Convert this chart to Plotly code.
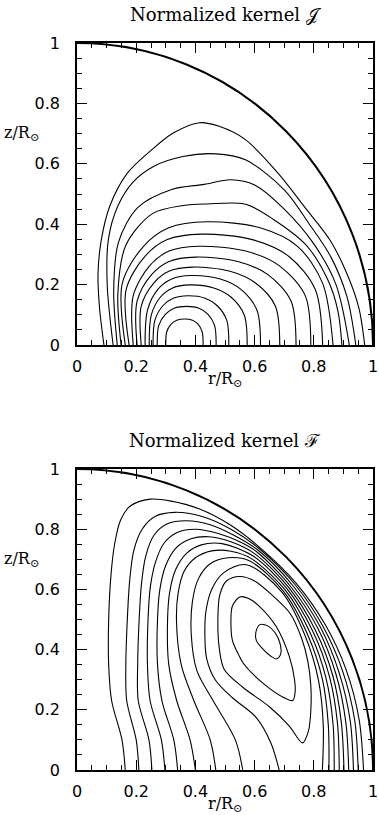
import plotly.graph_objects as go

# ---------------- data: contour lines (r/R, z/R) ----------------
# Top panel: normalized kernel J  (innermost -> outermost)
J01 = [(0.300,0),(0.303,0.043),(0.318,0.069),(0.337,0.082),(0.364,0.086),(0.390,0.082),(0.409,0.069),(0.423,0.043),(0.426,0)]
J02 = [(0.271,0),(0.276,0.064),(0.299,0.102),(0.328,0.122),(0.37,0.128),(0.412,0.122),(0.442,0.102),(0.465,0.064),(0.47,0)]
J03 = [(0.257,0),(0.263,0.0815),(0.29,0.13),(0.325,0.155),(0.375,0.163),(0.433,0.155),(0.474,0.13),(0.506,0.0815),(0.513,0)]
J04 = [(0.244,0),(0.251,0.0995),(0.282,0.159),(0.323,0.189),(0.38,0.199),(0.462,0.189),(0.52,0.159),(0.565,0.0995),(0.575,0)]
J05 = [(0.23,0),(0.238,0.115),(0.273,0.184),(0.32,0.2185),(0.385,0.23),(0.484,0.2185),(0.554,0.184),(0.608,0.115),(0.62,0)]
J06 = [(0.217,0),(0.217,0.129),(0.26,0.206),(0.312,0.245),(0.39,0.258),(0.514,0.245),(0.602,0.206),(0.67,0.129),(0.685,0)]
J07 = [(0.203,0),(0.203,0.1455),(0.252,0.233),(0.311,0.2765),(0.40,0.291),(0.543,0.2765),(0.645,0.233),(0.723,0.1455),(0.74,0)]
J08 = [(0.19,0),(0.19,0.1635),(0.245,0.262),(0.311,0.311),(0.41,0.327),(0.57,0.311),(0.684,0.262),(0.771,0.1635),(0.79,0)]
J09 = [(0.176,0),(0.166,0.1835),(0.23,0.294),(0.305,0.349),(0.42,0.367),(0.592,0.349),(0.715,0.294),(0.805,0.1835),(0.83,0)]
J10 = [(0.163,0),(0.153,0.204),(0.224,0.326),(0.31,0.388),(0.44,0.408),(0.6185,0.388),(0.746,0.326),(0.83,0.204),(0.865,0)]
J11 = [(0.149,0),(0.138,0.17),(0.165,0.33),(0.255,0.435),(0.36,0.462),(0.44,0.467),(0.57,0.466),(0.665,0.415),(0.775,0.33),(0.85,0.21),(0.882,0.11),(0.895,0)]
J12 = [(0.136,0),(0.124,0.18),(0.14,0.34),(0.205,0.455),(0.32,0.515),(0.43,0.532),(0.52,0.547),(0.6,0.53),(0.7,0.45),(0.8,0.335),(0.875,0.2),(0.92,0)]
J13 = [(0.122,0),(0.102,0.2),(0.106,0.35),(0.138,0.46),(0.19,0.54),(0.26,0.592),(0.358,0.624),(0.469,0.633),(0.569,0.613),(0.701,0.513),(0.785,0.40),(0.858,0.291),(0.912,0.16),(0.942,0)]
J14 = [(0.091,0),(0.076,0.124),(0.071,0.236),(0.082,0.347),(0.110,0.458),(0.170,0.569),(0.253,0.647),(0.325,0.702),(0.414,0.736),(0.480,0.724),(0.569,0.68),(0.679,0.569),(0.768,0.458),(0.855,0.347),(0.912,0.236),(0.952,0.124),(0.972,0)]

# Bottom panel: normalized kernel F  (closed loops, then open curves inner -> outer)
F_L1 = [(0.618,0.483),(0.604,0.456),(0.606,0.43),(0.625,0.405),(0.655,0.378),(0.674,0.369),(0.688,0.385),(0.686,0.42),(0.67,0.455),(0.646,0.478),(0.618,0.483)]
F_L2 = [(0.55,0.575),(0.525,0.545),(0.52,0.49),(0.525,0.431),(0.545,0.385),(0.563,0.353),(0.63,0.287),(0.696,0.242),(0.729,0.231),(0.737,0.26),(0.735,0.3),(0.718,0.375),(0.674,0.475),(0.618,0.542),(0.58,0.57),(0.55,0.575)]
F_L3 = [(0.762,0.09),(0.782,0.13),(0.79,0.2),(0.79,0.28),(0.78,0.36),(0.758,0.44),(0.72,0.52),(0.66,0.58),(0.6,0.628),(0.55,0.643),(0.505,0.628),(0.482,0.58),(0.476,0.5),(0.48,0.41),(0.497,0.335),(0.56,0.275),(0.65,0.21),(0.718,0.145),(0.762,0.09)]
F01 = [(0.683,0),(0.655,0.09),(0.605,0.175),(0.525,0.24),(0.468,0.298),(0.438,0.37),(0.432,0.45),(0.436,0.53),(0.455,0.6),(0.495,0.655),(0.572,0.682),(0.693,0.59),(0.771,0.445),(0.816,0.297),(0.832,0.147),(0.829,0)]
F02 = [(0.56,0),(0.535,0.1),(0.46,0.23),(0.405,0.33),(0.386,0.45),(0.39,0.56),(0.41,0.635),(0.45,0.685),(0.51,0.705),(0.582,0.695),(0.699,0.592),(0.779,0.45),(0.829,0.302),(0.849,0.15),(0.851,0)]
F03 = [(0.469,0),(0.45,0.1),(0.395,0.23),(0.352,0.35),(0.336,0.5),(0.342,0.59),(0.362,0.66),(0.4,0.705),(0.455,0.728),(0.52,0.727),(0.588,0.703),(0.705,0.596),(0.788,0.455),(0.841,0.306),(0.865,0.153),(0.869,0)]
F04 = [(0.40,0),(0.382,0.1),(0.337,0.23),(0.31,0.35),(0.306,0.5),(0.313,0.59),(0.333,0.665),(0.37,0.72),(0.42,0.748),(0.49,0.752),(0.595,0.711),(0.711,0.6),(0.797,0.46),(0.853,0.31),(0.88,0.155),(0.886,0)]
F05 = [(0.34,0),(0.327,0.1),(0.287,0.23),(0.272,0.35),(0.272,0.5),(0.28,0.6),(0.3,0.68),(0.335,0.738),(0.385,0.768),(0.445,0.775),(0.52,0.758),(0.601,0.718),(0.717,0.604),(0.805,0.465),(0.864,0.314),(0.893,0.158),(0.902,0)]
F06 = [(0.297,0),(0.285,0.1),(0.247,0.23),(0.238,0.35),(0.24,0.5),(0.248,0.61),(0.265,0.69),(0.295,0.755),(0.34,0.79),(0.4,0.80),(0.48,0.785),(0.55,0.758),(0.607,0.725),(0.723,0.608),(0.814,0.47),(0.875,0.318),(0.908,0.16),(0.918,0)]
F07 = [(0.253,0),(0.243,0.1),(0.207,0.23),(0.205,0.35),(0.21,0.5),(0.218,0.62),(0.232,0.71),(0.26,0.78),(0.305,0.818),(0.37,0.828),(0.45,0.815),(0.53,0.78),(0.612,0.73),(0.729,0.613),(0.822,0.475),(0.886,0.322),(0.923,0.163),(0.934,0)]
F08 = [(0.209,0),(0.2,0.1),(0.168,0.23),(0.165,0.35),(0.17,0.5),(0.178,0.63),(0.192,0.73),(0.22,0.8),(0.265,0.843),(0.33,0.856),(0.42,0.843),(0.52,0.80),(0.616,0.735),(0.735,0.618),(0.83,0.479),(0.898,0.327),(0.938,0.166),(0.95,0)]
F09 = [(0.163,0),(0.152,0.1),(0.117,0.23),(0.107,0.35),(0.107,0.5),(0.115,0.65),(0.127,0.75),(0.147,0.83),(0.18,0.877),(0.248,0.9),(0.314,0.894),(0.414,0.867),(0.513,0.817),(0.619,0.738),(0.74,0.621),(0.838,0.484),(0.91,0.331),(0.953,0.168),(0.968,0)]

J_CURVES = [J01, J02, J03, J04, J05, J06, J07, J08, J09, J10, J11, J12, J13, J14]
F_CURVES = [F_L1, F_L2, F_L3, F01, F02, F03, F04, F05, F06, F07, F08, F09]

TICK_VALS = [0, 0.2, 0.4, 0.6, 0.8, 1]
TICK_TEXT = ["0", "0.2", "0.4", "0.6", "0.8", "1"]
TITLES = ["Normalized kernel \U0001D4A5", "Normalized kernel \u2131"]

# ---------------- figure ----------------
W, H = 379, 815
ML, MR, MT, MB = 77, 1, 43, 45
ph = H - MT - MB
top_dom = [1 - 302 / ph, 1]
bot_dom = [0, 301 / ph]

fig = go.Figure()

def add_curves(curves, xa, ya):
    for c in curves:
        fig.add_trace(go.Scatter(
            x=[p[0] for p in c], y=[p[1] for p in c], mode="lines",
            line=dict(color="black", width=1.1, shape="spline", smoothing=0.9),
            xaxis=xa, yaxis=ya, showlegend=False, hoverinfo="skip"))

add_curves(J_CURVES, "x", "y")
add_curves(F_CURVES, "x2", "y2")

tickfont = dict(family="DejaVu Sans", size=16, color="black")
axcommon = dict(range=[0, 1], showgrid=False, zeroline=False, showline=True,
                linecolor="black", linewidth=1.5, mirror="allticks",
                ticks="inside", ticklen=10, tickwidth=1, tickcolor="black",
                tickvals=TICK_VALS, ticktext=TICK_TEXT, tickfont=tickfont,
                ticklabeloverflow="allow",
                minor=dict(ticks="inside", ticklen=5, tickwidth=1, tickcolor="black", dtick=0.05, tick0=0, showgrid=False))

fig.update_layout(
    width=W, height=H, margin=dict(l=ML, r=MR, t=MT, b=MB),
    paper_bgcolor="white", plot_bgcolor="white", showlegend=False,
    xaxis=dict(domain=[0, 1], anchor="y", ticklabelstandoff=6, **axcommon),
    yaxis=dict(domain=top_dom, anchor="x", ticklabelstandoff=12, **axcommon),
    xaxis2=dict(domain=[0, 1], anchor="y2", ticklabelstandoff=6, **axcommon),
    yaxis2=dict(domain=bot_dom, anchor="x2", ticklabelstandoff=12, **axcommon),
)

# boundary of the Sun (quarter circle of unit radius)
for xr, yr in (("x", "y"), ("x2", "y2")):
    fig.add_shape(type="circle", xref=xr, yref=yr, x0=-1, y0=-1, x1=1, y1=1,
                  line=dict(color="black", width=2), layer="above")

labelfont = dict(family="DejaVu Serif", size=16, color="black")
titlefont = dict(family="DejaVu Serif", size=18, color="black")
for i, (xr, yr) in enumerate((("x domain", "y domain"), ("x2 domain", "y2 domain"))):
    fig.add_annotation(text="z/R<sub>\u2299</sub>", xref=xr, yref=yr, x=-0.12, y=0.70,
                       xanchor="right", yanchor="middle", showarrow=False, font=labelfont)
    fig.add_annotation(text="r/R<sub>\u2299</sub>", xref=xr, yref=yr, x=0.5, y=-0.115,
                       xanchor="center", yanchor="middle", showarrow=False, font=labelfont)
    fig.add_annotation(text=TITLES[i], xref=xr, yref=yr, x=0.5, y=1.095,
                       xanchor="center", yanchor="middle", showarrow=False, font=titlefont)

fig.write_html("out.html", config={"displayModeBar": False},
               post_script="document.body.style.margin='0';")
